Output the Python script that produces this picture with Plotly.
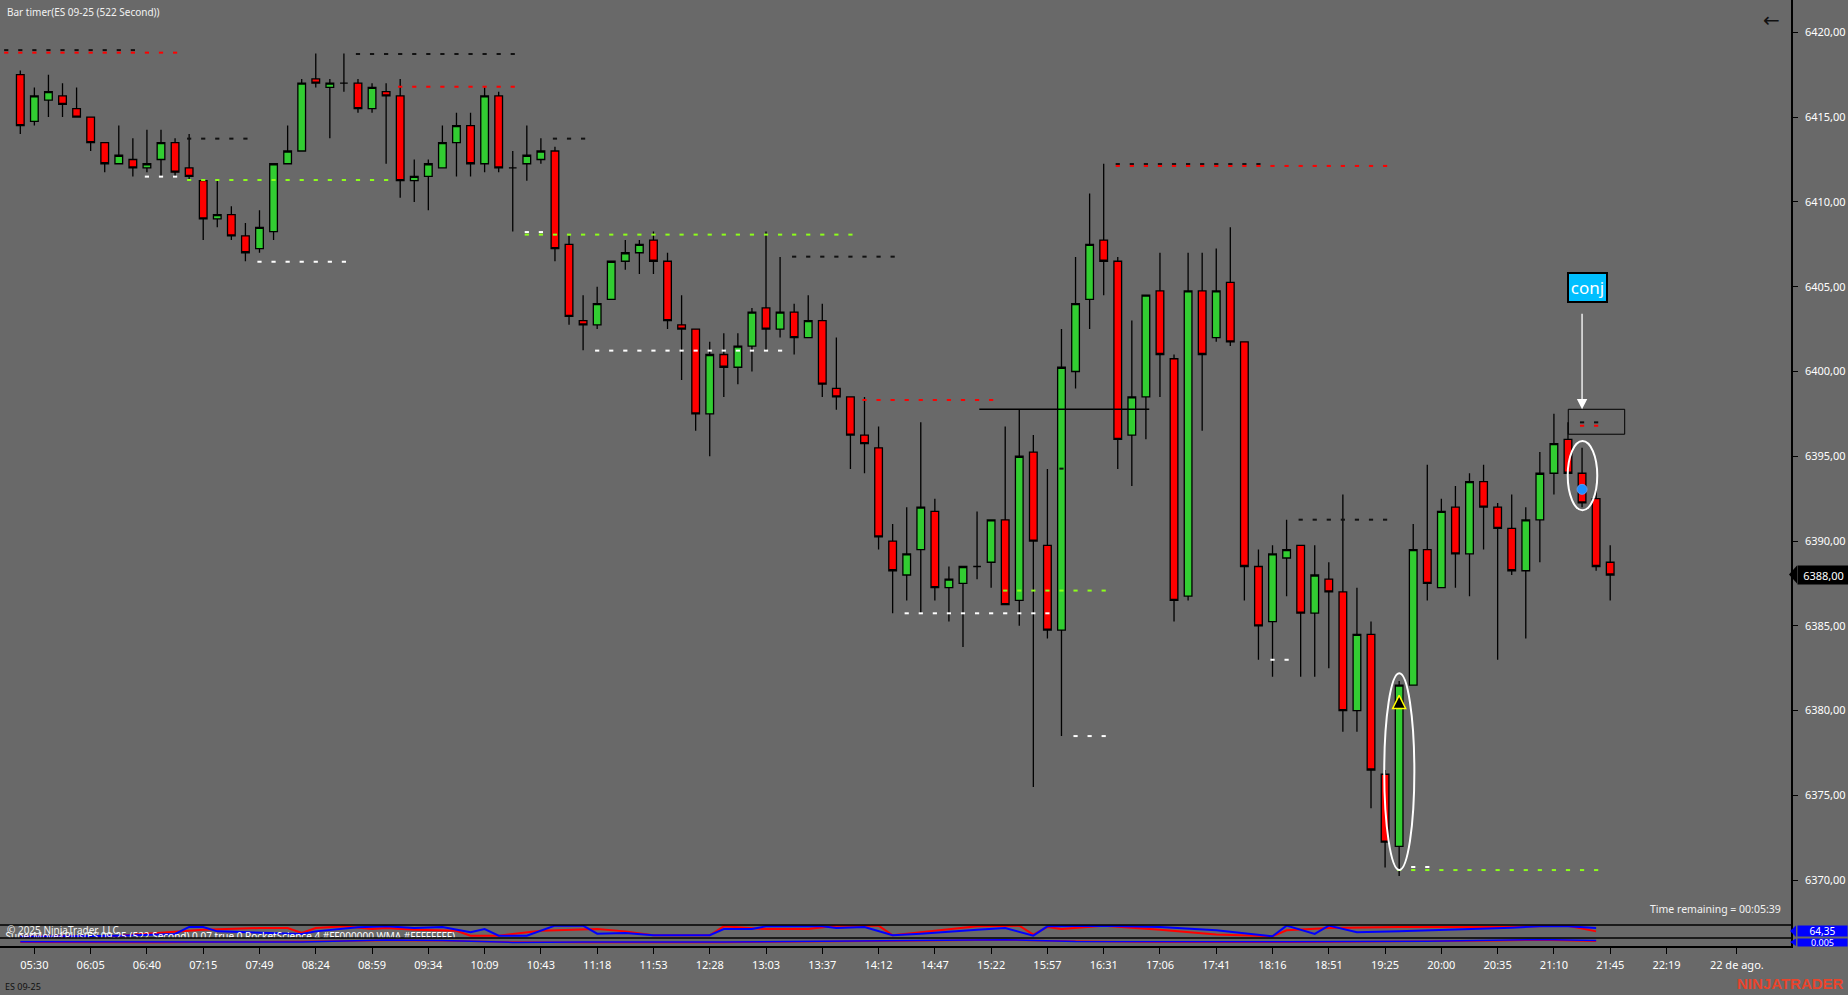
import plotly.graph_objects as go

# ---------------- data ----------------
bars = list(range(114))
opens = [6417.5, 6414.75, 6416, 6416.25, 6415.5, 6415, 6413.5, 6412.25, 6412.5, 6412,
         6412.5, 6413.5, 6412, 6411.25, 6409, 6409.25, 6408, 6407.25, 6408.25, 6412.25,
         6413, 6417.25, 6416.75, 6417, 6417, 6415.5, 6416.5, 6416.25, 6411.25, 6411.5,
         6412, 6413.5, 6414.5, 6412.25, 6416.25, 6412, 6412.25, 6412.5, 6413, 6407.5,
         6403, 6402.75, 6404.25, 6406.5, 6407, 6407.75, 6406.5, 6402.75, 6402.5, 6397.5,
         6401, 6400.25, 6401.5, 6403.75, 6402.5, 6403.5, 6402, 6403, 6399, 6398.5,
         6396.25, 6395.5, 6390, 6388, 6389.5, 6391.75, 6387.25, 6387.5, 6388.5, 6388.75,
         6391.25, 6386.5, 6395.25, 6389.75, 6384.75, 6400, 6404.25, 6407.75, 6406.5, 6396.25,
         6398.5, 6404.75, 6400.75, 6386.75, 6404.75, 6402, 6405.25, 6401.75, 6388.5, 6385.25,
         6389, 6389.75, 6385.75, 6387.75, 6387, 6380, 6384.5, 6376.25, 6372, 6381.5,
         6389.5, 6387.25, 6392, 6389.25, 6393.5, 6392, 6390.75, 6388.25, 6391.25, 6394,
         6396, 6394, 6392.5, 6388.75]
highs = [6417.75, 6416.75, 6417.5, 6417, 6416.75, 6415, 6413.5, 6414.5, 6413.75, 6414.25,
         6414.25, 6413.75, 6414, 6411.25, 6411.25, 6409.75, 6408.75, 6409.5, 6412.25, 6414.5,
         6417.25, 6418.75, 6417.25, 6418.75, 6417.25, 6417, 6417, 6417.25, 6412.5, 6412.5,
         6414.5, 6415.25, 6415.25, 6416.75, 6416.5, 6413, 6414.5, 6413.75, 6413.25, 6408,
         6404.5, 6405, 6406.5, 6407.75, 6407.75, 6408.25, 6407, 6404.5, 6402.5, 6401.75,
         6402.25, 6402.25, 6403.75, 6408.25, 6406.75, 6404, 6404.5, 6404, 6402, 6398.5,
         6398.5, 6396.75, 6391, 6392, 6397, 6392.5, 6388.5, 6388.5, 6391.75, 6391.25,
         6396.75, 6397.75, 6396.25, 6394.25, 6402.5, 6406.75, 6410.5, 6412.25, 6406.75, 6403,
         6404.5, 6407, 6401, 6407, 6407, 6407.25, 6408.5, 6401.75, 6389.5, 6389.75,
         6391.25, 6389.75, 6389.75, 6388.75, 6392.75, 6387.25, 6385.25, 6376.5, 6381.75, 6391,
         6394.5, 6392.5, 6393.25, 6394, 6394.5, 6392.25, 6392.75, 6392, 6395.25, 6397.5,
         6397, 6395.5, 6393, 6389.75]
lows = [6414, 6414.5, 6415, 6415, 6415, 6413, 6411.75, 6412.25, 6411.5, 6411.75,
        6411.5, 6411.5, 6411.25, 6407.75, 6408.5, 6407.75, 6406.5, 6407, 6407.75, 6412.25,
        6413, 6416.75, 6413.75, 6416.5, 6415.25, 6415.25, 6412.25, 6410.25, 6410, 6409.5,
        6412, 6411.5, 6411.5, 6411.75, 6411.75, 6408.25, 6411.25, 6412.25, 6406.5, 6402.75,
        6401.25, 6402.5, 6404.25, 6406, 6405.75, 6405.75, 6402.5, 6399.5, 6396.5, 6395,
        6398.5, 6399.25, 6400, 6401.25, 6402, 6401, 6402, 6398.5, 6397.75, 6394.25,
        6394, 6389.5, 6385.75, 6386.5, 6385.75, 6386.5, 6385.25, 6383.75, 6387.75, 6387.25,
        6386.25, 6385, 6375.5, 6384.25, 6378.5, 6399, 6402.5, 6404.5, 6394.25, 6393.25,
        6396, 6398.5, 6385.25, 6386.5, 6396.5, 6401.75, 6401.5, 6386.5, 6383, 6382,
        6386.75, 6382, 6382, 6382.5, 6378.75, 6378.75, 6374.25, 6370.75, 6370.25, 6381.5,
        6386.5, 6387.25, 6387.25, 6386.75, 6389.5, 6383, 6388, 6384.25, 6388.75, 6392.75,
        6394, 6392, 6388.25, 6386.5]
closes = [6414.5, 6416.25, 6416.5, 6415.75, 6415, 6413.5, 6412.25, 6412.75, 6412, 6412.25,
          6413.5, 6411.75, 6411.5, 6409, 6409.25, 6408, 6407, 6408.5, 6412.25, 6413,
          6417, 6417, 6417, 6417, 6415.5, 6416.75, 6416.25, 6411.25, 6411.5, 6412.25,
          6413.5, 6414.5, 6412.25, 6416.25, 6412, 6412, 6412.75, 6413, 6407.25, 6403.25,
          6402.75, 6404, 6406.5, 6407, 6407.5, 6406.5, 6403, 6402.5, 6397.5, 6401,
          6400.25, 6401.5, 6403.5, 6402.5, 6403.5, 6402, 6403, 6399.25, 6398.5, 6396.25,
          6395.75, 6390.25, 6388.25, 6389.25, 6392, 6387.25, 6387.75, 6388.5, 6388.5, 6391.25,
          6386.25, 6395, 6390, 6384.75, 6400.25, 6404, 6407.5, 6406.5, 6396, 6398.5,
          6404.5, 6401, 6386.5, 6404.75, 6401, 6404.75, 6401.75, 6388.5, 6385, 6389.25,
          6389.5, 6385.75, 6388, 6387, 6380, 6384.5, 6376.5, 6372.25, 6381.5, 6389.5,
          6387.5, 6391.75, 6389.25, 6393.5, 6392, 6390.75, 6388.25, 6391.25, 6394, 6395.75,
          6394, 6392.25, 6388.5, 6388]

tick_bars = [1, 5, 9, 13, 17, 21, 25, 29, 33, 37, 41, 45, 49, 53, 57, 61, 65, 69, 73, 77,
             81, 85, 89, 93, 97, 101, 105, 109, 113, 117, 122]
tick_labels = ["05:30", "06:05", "06:40", "07:15", "07:49", "08:24", "08:59", "09:34", "10:09",
               "10:43", "11:18", "11:53", "12:28", "13:03", "13:37", "14:12", "14:47", "15:22",
               "15:57", "16:31", "17:06", "17:41", "18:16", "18:51", "19:25", "20:00", "20:35",
               "21:10", "21:45", "22:19", "22 de ago."]
price_ticks = [6370, 6375, 6380, 6385, 6390, 6395, 6400, 6405, 6410, 6415, 6420]
price_labels = ["6370,00", "6375,00", "6380,00", "6385,00", "6390,00", "6395,00", "6400,00",
                "6405,00", "6410,00", "6415,00", "6420,00"]

# dotted level markers: price, first bar, last bar, colour name
level_price = [6418.95, 6418.8, 6418.72, 6416.79, 6413.73, 6411.49, 6411.29, 6406.47,
               6413.73, 6408.22, 6408.07, 6406.77, 6401.23, 6398.32, 6412.23, 6412.12,
               6387.08, 6385.74, 6378.5, 6391.26, 6383.0, 6370.6, 6370.78, 6397.0, 6396.8]
level_start = [-1, -1, 24, 27, 12, 9, 12, 17, 38, 36, 36, 55, 41, 60, 78, 78,
               70, 63, 75, 91, 89, 98, 99, 111, 111]
level_end = [8, 11, 35, 35, 16, 11, 26, 23, 40, 37, 59, 62, 54, 69, 88, 97,
             77, 73, 77, 97, 90, 112, 100, 112, 112]
level_color = ["black", "red", "black", "red", "black", "white", "green", "white",
               "black", "white", "green", "black", "white", "red", "black", "red",
               "green", "white", "white", "black", "white", "green", "white", "black", "red"]

# indicator panel 1 (0-100 scale)
ind1_red_x = [0, 7, 13, 17, 19, 20, 21, 23, 25, 26, 28, 31, 32, 34, 37, 41, 43, 45, 49, 50,
              53, 56, 58, 61, 62, 64, 68, 71, 72, 73, 74, 77, 81, 85, 89, 90, 93, 98, 102, 106,
              109, 110, 112]
ind1_red_y = [10, 18, 64, 77, 77, 38, 77, 90, 69, 77, 64, 56, 18, 18, 56, 69, 51, 21, 21, 90,
              69, 69, 95, 95, 21, 44, 90, 95, 26, 85, 69, 95, 64, 26, 13, 59, 77, 85, 85, 85,
              95, 95, 51]
ind1_blue_x = [0, 7, 11, 12, 13, 14, 20, 21, 24, 26, 28, 30, 32, 33, 34, 36, 38, 40, 41, 43,
               45, 49, 50, 52, 53, 57, 58, 60, 62, 64, 68, 70, 72, 73, 77, 81, 85, 89, 90, 92,
               93, 95, 98, 102, 104, 106, 108, 110, 112]
ind1_blue_y = [10, 18, 31, 85, 85, 51, 31, 51, 82, 90, 77, 85, 44, 69, 18, 18, 95, 95, 33, 38,
               21, 21, 69, 69, 90, 90, 77, 85, 21, 33, 64, 77, 18, 90, 95, 85, 59, 13, 95, 31,
               95, 44, 51, 64, 74, 79, 90, 90, 77]
# indicator panel 2 (0-100 scale)
ind2_x = [0, 10, 20, 26, 30, 35, 40, 50, 60, 65, 70, 75, 80, 90, 100, 105, 108, 112]
ind2_red_y = [48, 45, 55, 70, 65, 50, 45, 45, 60, 70, 75, 60, 50, 48, 55, 65, 75, 60]
ind2_blue_y = [52, 50, 50, 75, 70, 45, 50, 50, 65, 75, 78, 55, 52, 52, 60, 70, 80, 70]

last_price = 6388.0
signal_bar, signal_price = 111, 6393.05
up_arrow_bar, up_arrow_price = 98, 6380.9
hline_price, hline_x0, hline_x1 = 6397.77, 68.16, 80.24

# ---------------- styling / geometry ----------------
BG = "#696969"
FONT = "Segoe UI, Noto Sans, sans-serif"
PLOT_W, PLOT_H = 1791, 946
COLORS = {"black": "#111111", "red": "#FF0000", "white": "#FFFFFF", "green": "#8CFF1A"}


def xp(px):
    return px / PLOT_W


def yp(py):
    return (PLOT_H - py) / PLOT_H


d_price = [21 / PLOT_H, 1]
d_ind1 = [8 / PLOT_H, 21 / PLOT_H]
d_ind2 = [0, 8 / PLOT_H]

fig = go.Figure()

# level dots
for cname in ["black", "red", "white", "green"]:
    xs, ys = [], []
    for p, b0, b1, c in zip(level_price, level_start, level_end, level_color):
        if c == cname:
            for b in range(b0, b1 + 1):
                xs.append(b)
                ys.append(p)
    fig.add_trace(go.Scatter(x=xs, y=ys, mode="markers", showlegend=False, hoverinfo="skip",
                             marker=dict(symbol="line-ew", size=3, color=COLORS[cname],
                                         line=dict(width=2, color=COLORS[cname]))))

# candles
fig.add_trace(go.Candlestick(
    x=bars, open=opens, high=highs, low=lows, close=closes,
    increasing=dict(fillcolor="#32CD32", line=dict(color="black", width=1.3)),
    decreasing=dict(fillcolor="#FF0000", line=dict(color="black", width=1.3)),
    whiskerwidth=0, showlegend=False, hoverinfo="skip"))

# small marker on bar 74
fig.add_trace(go.Scatter(x=[74], y=[6394.27], mode="markers", showlegend=False, hoverinfo="skip",
                         marker=dict(symbol="line-ew", size=3, color="#111111",
                                     line=dict(width=2, color="#111111"))))
# signal dot
fig.add_trace(go.Scatter(x=[signal_bar], y=[signal_price], mode="markers", showlegend=False,
                         hoverinfo="skip",
                         marker=dict(size=10, color="#1E90FF", line=dict(color="#6495ED", width=1))))
# up arrow
fig.add_trace(go.Scatter(x=[up_arrow_bar], y=[up_arrow_price], mode="markers", showlegend=False,
                         hoverinfo="skip",
                         marker=dict(symbol="arrow-up", size=13, color="#000000",
                                     line=dict(color="#FFFF00", width=1.5))))

# indicator lines
fig.add_trace(go.Scatter(x=ind1_red_x, y=ind1_red_y, mode="lines", yaxis="y2", showlegend=False,
                         hoverinfo="skip", line=dict(color="#FF0000", width=2)))
fig.add_trace(go.Scatter(x=ind1_blue_x, y=ind1_blue_y, mode="lines", yaxis="y2", showlegend=False,
                         hoverinfo="skip", line=dict(color="#0000FF", width=2)))
fig.add_trace(go.Scatter(x=ind2_x, y=ind2_red_y, mode="lines", yaxis="y3", showlegend=False,
                         hoverinfo="skip", line=dict(color="#FF0000", width=1.5)))
fig.add_trace(go.Scatter(x=ind2_x, y=ind2_blue_y, mode="lines", yaxis="y3", showlegend=False,
                         hoverinfo="skip", line=dict(color="#0000FF", width=1.5)))
# clipped indicator caption (only its top part shows above the lower panel)
fig.add_trace(go.Scatter(
    x=[-1.05], y=[4], mode="text", yaxis="y2", showlegend=False, hoverinfo="skip",
    cliponaxis=True, textposition="middle right",
    text=["SuperMove1Plus(ES 09-25 (522 Second) 0.07 true 0 RocketScience 4 #FF000000 WMA #FFFFFFFF)"],
    textfont=dict(family=FONT, size=10, color="white")))

shapes = [
    # panel separators
    dict(type="line", xref="paper", yref="paper", x0=0, x1=1, y0=d_ind1[1], y1=d_ind1[1],
         line=dict(color="black", width=1.5)),
    dict(type="line", xref="paper", yref="paper", x0=0, x1=1, y0=d_ind1[0], y1=d_ind1[0],
         line=dict(color="black", width=1.5)),
    # solid level line
    dict(type="line", xref="x", yref="y", x0=hline_x0, x1=hline_x1, y0=hline_price, y1=hline_price,
         line=dict(color="black", width=1.5), layer="above"),
    # box near signal
    dict(type="rect", xref="x", yref="y", x0=110.02, x1=114.03, y0=6396.3, y1=6397.77,
         line=dict(color="black", width=1), layer="above"),
    # ellipses
    dict(type="circle", xref="x", yref="y", x0=109.98, x1=112.08, y0=6391.82, y1=6395.9,
         line=dict(color="white", width=2), layer="above"),
    dict(type="circle", xref="x", yref="y", x0=96.94, x1=99.08, y0=6370.61, y1=6382.2,
         line=dict(color="white", width=2), layer="above"),
    # price label notch
    dict(type="path", xref="paper", yref="paper",
         path=f"M {xp(1789)} {yp(574.5)} L {xp(1797)} {yp(565.5)} L {xp(1797)} {yp(583.5)} Z",
         fillcolor="black", line=dict(width=0)),
    dict(type="path", xref="paper", yref="paper",
         path=f"M {xp(1790)} {yp(931)} L {xp(1796)} {yp(925.5)} L {xp(1796)} {yp(937)} Z",
         fillcolor="#0000FF", line=dict(width=0)),
    dict(type="path", xref="paper", yref="paper",
         path=f"M {xp(1790)} {yp(942)} L {xp(1796)} {yp(938.5)} L {xp(1796)} {yp(946)} Z",
         fillcolor="#0000FF", line=dict(width=0)),
]

annotations = [
    dict(xref="paper", yref="paper", x=xp(5), y=yp(12), xanchor="left", yanchor="middle",
         text="Bar timer(ES 09-25 (522 Second))", showarrow=False,
         font=dict(family=FONT, size=10, color="#F2F2F2")),
    dict(xref="paper", yref="paper", x=xp(1771), y=yp(20), xanchor="center", yanchor="middle",
         text="←", showarrow=False, font=dict(family="DejaVu Sans", size=20, color="#111111")),
    dict(xref="paper", yref="paper", x=xp(1783), y=yp(909), xanchor="right", yanchor="middle",
         text="Time remaining = 00:05:39", showarrow=False,
         font=dict(family=FONT, size=10.5, color="#F2F2F2")),
    dict(xref="paper", yref="paper", x=xp(5), y=yp(930), xanchor="left", yanchor="middle",
         text="© 2025 NinjaTrader, LLC", showarrow=False,
         font=dict(family=FONT, size=10, color="#F2F2F2")),
    dict(xref="paper", yref="paper", x=xp(3), y=yp(986), xanchor="left", yanchor="middle",
         text="ES 09-25", showarrow=False, font=dict(family=FONT, size=9, color="#111111")),
    dict(xref="paper", yref="paper", x=xp(1846), y=yp(983), xanchor="right", yanchor="middle",
         text="<b>NINJATRADER</b>", showarrow=False,
         font=dict(family="Liberation Sans", size=15, color="#E8442C")),
    # conj label + arrow
    dict(xref="x", yref="y", x=111, y=6397.77, ax=111, ay=6403.49, axref="x", ayref="y",
         text="", showarrow=True, arrowhead=2, arrowsize=1.6, arrowwidth=1.3, arrowcolor="white"),
    dict(xref="x", yref="y", x=111.42, y=6404.98, text="conj", showarrow=False,
         xanchor="center", yanchor="middle", width=35, height=25, borderpad=1,
         bgcolor="#00BFFF", bordercolor="black", borderwidth=2,
         font=dict(family=FONT, size=17, color="white")),
    # last price label
    dict(xref="paper", yref="y", x=xp(1797), y=last_price, xanchor="left", yanchor="middle",
         text="6388,00", showarrow=False, bgcolor="black", width=47, height=14, borderpad=2,
         font=dict(family=FONT, size=11, color="white")),
    dict(xref="paper", yref="paper", x=xp(1797), y=yp(931), xanchor="left", yanchor="middle",
         text="64,35", showarrow=False, bgcolor="#0000FF", width=49, height=10, borderpad=0,
         font=dict(family=FONT, size=10, color="white")),
    dict(xref="paper", yref="paper", x=xp(1797), y=yp(942), xanchor="left", yanchor="middle",
         text="0,005", showarrow=False, bgcolor="#0000FF", width=49, height=7, borderpad=0,
         font=dict(family=FONT, size=9, color="white")),
]

fig.update_layout(
    width=1848, height=995,
    margin=dict(l=0, r=57, t=0, b=49),
    paper_bgcolor=BG, plot_bgcolor=BG,
    showlegend=False, boxgap=0.22, hovermode=False,
    shapes=shapes, annotations=annotations,
    xaxis=dict(domain=[0, 1], range=[-1.443, 125.85], anchor="y3",
               tickmode="array", tickvals=tick_bars, ticktext=tick_labels,
               ticks="outside", ticklen=6, tickcolor="black", tickwidth=1,
               showline=True, linecolor="black", linewidth=1.5,
               showgrid=False, zeroline=False, ticklabelstandoff=2,
               tickfont=dict(family=FONT, size=11, color="white"),
               rangeslider=dict(visible=False)),
    yaxis=dict(domain=d_price, range=[6367.36, 6421.905], anchor="x", side="right",
               tickmode="array", tickvals=price_ticks, ticktext=price_labels,
               ticks="outside", ticklen=5, tickcolor="black", tickwidth=1,
               showline=True, linecolor="black", linewidth=1.5,
               showgrid=False, zeroline=False, ticklabelstandoff=5,
               tickfont=dict(family=FONT, size=11, color="white")),
    yaxis2=dict(domain=d_ind1, range=[0, 100], anchor="x", side="right",
                showline=True, linecolor="black", linewidth=1.5, showticklabels=False,
                ticks="", showgrid=False, zeroline=False),
    yaxis3=dict(domain=d_ind2, range=[0, 100], anchor="x", side="right",
                showline=True, linecolor="black", linewidth=1.5, showticklabels=False,
                ticks="", showgrid=False, zeroline=False),
)

fig.write_html("out.html", config={"displayModeBar": False},
               post_script="document.body.style.margin='0';document.body.style.overflow='hidden';")
